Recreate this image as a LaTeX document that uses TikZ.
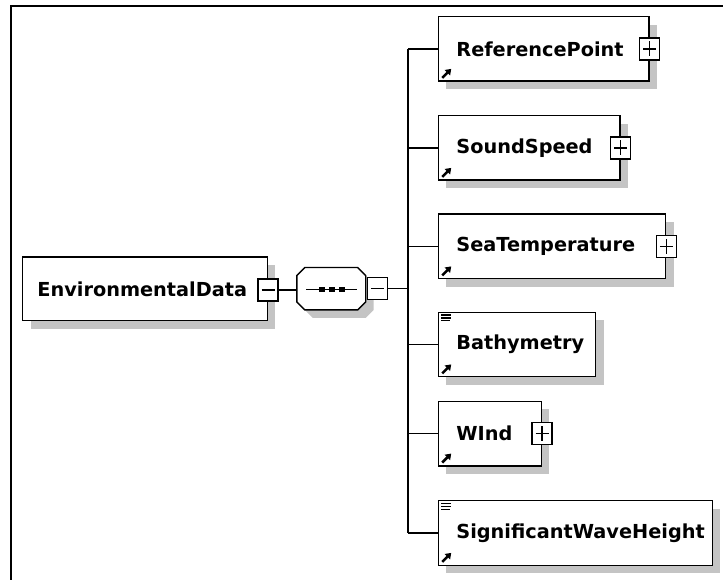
\documentclass[tikz,border=0pt]{standalone}
\usepackage{fontspec}
\setmainfont{DejaVu Sans}
\usetikzlibrary{shadows,arrows.meta,calc}
\definecolor{shadowgray}{RGB}{196,196,196}
\newcommand\xsarrow[1]{\draw[line width=2.6pt,-{Triangle[length=5.5pt,width=7.5pt]}] ([shift={(4.5pt,4pt)}]#1.south west) -- ++(9pt,9pt);}
\newcommand\xsdoc[1]{%
  \draw[line width=1.4pt] ([shift={(3.5pt,-3.6pt)}]#1.north west) -- ++(10pt,0pt);
  \draw[line width=1.4pt] ([shift={(3.5pt,-6.4pt)}]#1.north west) -- ++(10pt,0pt);
  \draw[line width=1.4pt] ([shift={(3.5pt,-9.2pt)}]#1.north west) -- ++(8.5pt,0pt);}
\tikzset{
  elem/.style={draw=black, line width=1.4pt, fill=white, anchor=north west,
    minimum height=64.5pt, inner xsep=18pt, align=left,
    font=\fontsize{19.3}{22}\selectfont\bfseries,
    general shadow={fill=shadowgray, shadow xshift=8pt, shadow yshift=-8pt}},
  pm/.style={draw=black, line width=1.3pt, fill=white, minimum width=20pt,
    minimum height=22pt, inner sep=0pt},
  minusbox/.style={pm, path picture={\draw[line width=1.3pt]
    ([xshift=3.5pt]path picture bounding box.west) -- ([xshift=-3.5pt]path picture bounding box.east);}},
  plusbox/.style={pm, path picture={\draw[line width=1.3pt]
    ([xshift=3.5pt]path picture bounding box.west) -- ([xshift=-3.5pt]path picture bounding box.east);
    \draw[line width=1.3pt]
    ([yshift=-3.5pt]path picture bounding box.north) -- ([yshift=3.5pt]path picture bounding box.south);}},
  conn/.style={line width=1.4pt, draw=black},
}
\begin{document}
\begin{tikzpicture}[x=1pt,y=-1pt]
\useasboundingbox (0,0) rectangle (723,580);
\fill[white] (0,0) rectangle (723,580);
% frame
\draw[line width=2pt] (11,580) -- (11,6) -- (723,6);

% root element
\node[elem, inner xsep=14.7pt, minimum height=63.5pt, text width=215.3pt] (ed) at (22,256.5) {EnvironmentalData};
\node[minusbox] (edm) at ([yshift=-1pt]ed.east) {};

% sequence compositor
\node[minimum width=68.5pt, minimum height=42pt, inner sep=0pt] (seq) at (331.25,288.7) {};
\fill[shadowgray] ($(seq.north west)+(8+8,8)$) -- ($(seq.north east)+(8-8,8)$) -- ($(seq.north east)+(8,8+8)$)
  -- ($(seq.south east)+(8,8-8)$) -- ($(seq.south east)+(8-8,8)$) -- ($(seq.south west)+(8+8,8)$)
  -- ($(seq.south west)+(8,8-8)$) -- ($(seq.north west)+(8,8+8)$) -- cycle;
\filldraw[fill=white, draw=black, line width=1.4pt] ($(seq.north west)+(8,0)$) -- ($(seq.north east)+(-8,0)$) -- ($(seq.north east)+(0,8)$)
  -- ($(seq.south east)+(0,-8)$) -- ($(seq.south east)+(-8,0)$) -- ($(seq.south west)+(8,0)$)
  -- ($(seq.south west)+(0,-8)$) -- ($(seq.north west)+(0,8)$) -- cycle;
\draw[line width=1.5pt] ($(seq.center)+(-25,0.6)$) -- ($(seq.center)+(26,0.6)$);
\foreach \dx in {-9,1,11} \fill ($(seq.center)+(\dx-3,-2.2)$) rectangle ($(seq.center)+(\dx+3,3.4)$);
\node[minusbox, anchor=west] (seqm) at ([xshift=1pt]seq.east) {};

% child elements
\node[elem, text width=174.6pt] (rp) at (437.7,16) {ReferencePoint};
\node[plusbox] at (rp.east) {};
\node[elem, text width=145.6pt] (ss) at (437.7,115) {SoundSpeed};
\node[plusbox] at (ss.east) {};
\node[elem, text width=191.3pt] (st) at (437.7,213.5) {SeaTemperature};
\node[plusbox] at (st.east) {};
\node[elem, text width=121.3pt] (ba) at (437.7,311.5) {Bathymetry};
\node[elem, text width=67pt] (wi) at (437.7,400.7) {WInd};
\node[plusbox] at (wi.east) {};
\node[elem, text width=238pt] (sw) at (437.7,500) {SignificantWaveHeight};

% icons
\foreach \n in {rp,ss,st,ba,wi,sw} {\xsarrow{\n}}
\xsdoc{ba}
\xsdoc{sw}

% connectors
\coordinate (bus) at (407.8,290);
\draw[conn] (edm.east) -- (edm.east -| seq.west);
\draw[conn] (seqm.east) -- (seqm.east -| bus);
\draw[conn] (bus |- rp.west) -- (bus |- sw.west);
\foreach \n in {rp,ss,st,ba,wi,sw} {\draw[conn] (bus |- \n.west) -- (\n.west);}
\end{tikzpicture}
\end{document}
